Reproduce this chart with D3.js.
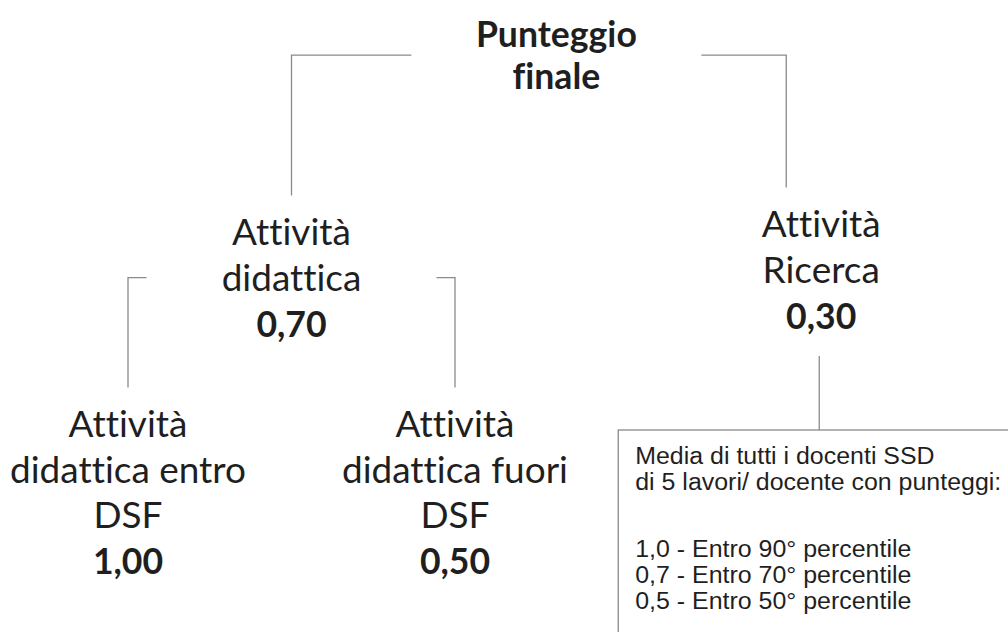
<!DOCTYPE html>
<html>
<head>
<meta charset="utf-8">
<script src="https://cdn.jsdelivr.net/npm/d3@7"></script>
<style>
  html, body { margin: 0; padding: 0; background: #ffffff; }
  svg { display: block; }
  text { font-variant-ligatures: none; font-feature-settings: "liga" 0, "clig" 0, "dlig" 0; }
</style>
</head>
<body>
<svg id="chart" width="1008" height="632"></svg>
<script>
// ---------- DATA ----------
const nodeIds   = ["root", "did", "ric", "entro", "fuori", "box"];
const parentIds = [null, "root", "root", "did", "did", "ric"];
const nodeLabels = [
  ["Punteggio", "finale"],
  ["Attività", "didattica"],
  ["Attività", "Ricerca"],
  ["Attività", "didattica entro", "DSF"],
  ["Attività", "didattica fuori", "DSF"],
  null
];
const nodeWeights = [null, 0.70, 0.30, 1.00, 0.50, null];
const boxIntro = ["Media di tutti i docenti SSD", "di 5 lavori/ docente con punteggi:"];
const percentileScores = [1.0, 0.7, 0.5];
const percentileLimits = [90, 70, 50];

// ---------- STYLE / LAYOUT ----------
const W = 1008, H = 632;
const textColor = "#1f1f1f";
const lineColor = "#8a8a8a";
const fontFamily = "Lato, 'Open Sans', sans-serif";
const boxFont = "'Liberation Sans', Arial, sans-serif";
const boxSize = 23;
const depthBaseline = [47, 245, 437];   // first-line baseline per depth
const nodeDy = { ric: -8 };             // small vertical offsets seen in the scan
const linkDx = { ric: -35 };            // top link lands left of node centre
const lineGap = { 0: 42, 1: 46, 2: 45.5 };

const locale = d3.formatLocale({ decimal: ",", thousands: ".", grouping: [3], currency: ["€", ""] });
const fmt2 = locale.format(".2f");
const fmt1 = locale.format(".1f");

const svg = d3.select("#chart");
svg.append("rect").attr("width", W).attr("height", H).attr("fill", "#ffffff");

// measurement helper for fitting font sizes
function measure(text, weight, size, family) {
  const t = svg.append("text").attr("font-family", family || fontFamily).attr("font-weight", weight)
    .attr("font-size", size).text(text);
  const w = t.node().getComputedTextLength();
  t.remove();
  return w;
}
const regSize  = 100 * 236 / measure("didattica entro", 400, 100);
const boldSize = 100 * 161 / measure("Punteggio", 700, 100);
// horizontal stretch so the box text reaches the width seen in the scan
const boxStretch = Math.max(1, 366 / measure("di 5 lavori/ docente con punteggi:", 400, boxSize, boxFont));

// ---------- HIERARCHY ----------
const table = nodeIds.map((id, i) => ({ id, parent: parentIds[i], label: nodeLabels[i], weight: nodeWeights[i] }));
const root = d3.stratify().id(d => d.id).parentId(d => d.parent)(table);

const tree = d3.tree()
  .nodeSize([327, 1])
  .separation((a, b) => a.parent === b.parent ? 1 : 1.12);
tree(root);

const leaves = root.leaves();
const xShift = 128 - d3.min(leaves, d => d.x);
root.each(d => {
  d.px = d.x + xShift;
  d.py = depthBaseline[d.depth] + (nodeDy[d.data.id] || 0);
});

// build lines per node
root.each(d => {
  if (!d.data.label) return;
  const lines = d.data.label.map(s => ({ text: s, bold: d.depth === 0 }));
  if (d.data.weight != null) lines.push({ text: fmt2(d.data.weight), bold: true });
  d.lines = lines;
  const gap = lineGap[d.depth];
  const capTop = d.py - (d.depth === 0 ? boldSize : regSize) * 0.72;
  d.capTop = capTop;
  d.lastBaseline = d.py + gap * (lines.length - 1);
  d.midY = (capTop + d.lastBaseline) / 2;
});

// ---------- CONNECTORS ----------
const gLinks = svg.append("g").attr("stroke", lineColor).attr("stroke-width", 1.3).attr("fill", "none");
const textGap = 145;
root.each(p => {
  if (!p.children) return;
  if (p.children.length === 1) {
    const c = p.children[0];
    gLinks.append("path").attr("d", d3.line()([[c.px - 2, p.lastBaseline + 27], [c.px - 2, 430]]));
    return;
  }
  p.children.forEach(c => {
    const cx = c.px + (linkDx[c.data.id] || 0);
    const side = cx < p.px ? -1 : 1;
    const hx = p.px + side * textGap;
    const yEnd = c.capTop - 23;
    gLinks.append("path").attr("d", d3.line()([[hx, p.midY], [cx, p.midY], [cx, yEnd]]));
  });
});

// ---------- NODE LABELS ----------
const gNodes = svg.append("g").attr("fill", textColor).attr("font-family", fontFamily);
root.each(d => {
  if (!d.lines) return;
  const gap = lineGap[d.depth];
  gNodes.append("g").selectAll("text").data(d.lines).join("text")
    .attr("x", d.px)
    .attr("y", (l, i) => d.py + i * gap)
    .attr("text-anchor", "middle")
    .attr("font-size", l => l.bold ? boldSize : regSize)
    .attr("font-weight", l => l.bold ? 700 : 400)
    .text(l => l.text);
});

// ---------- DESCRIPTION BOX ----------
const boxNode = root.find(d => d.data.id === "box");
const boxW = 406;
const boxX = boxNode.px - boxW / 2;
const boxY = 430;
svg.append("rect")
  .attr("x", boxX).attr("y", boxY).attr("width", boxW).attr("height", 260)
  .attr("fill", "none").attr("stroke", lineColor).attr("stroke-width", 1.3);

const boxLines = boxIntro.map(s => ({ text: s, gapBefore: 0 }))
  .concat(percentileScores.map((s, i) => ({
    text: `${fmt1(s)} - Entro ${percentileLimits[i]}° percentile`, gapBefore: i === 0 ? 41 : 0
  })));
let yy = 464;
const boxYs = boxLines.map((l, i) => { if (i > 0) yy += 26 + l.gapBefore; return yy; });
svg.append("g").attr("fill", textColor).attr("font-family", boxFont).attr("font-size", boxSize)
  .selectAll("text").data(boxLines).join("text")
  .attr("x", boxX + 17)
  .attr("y", (l, i) => boxYs[i])
  .text(l => l.text)
  .each(function () {
    const len = this.getComputedTextLength();
    d3.select(this).attr("textLength", len * boxStretch).attr("lengthAdjust", "spacingAndGlyphs");
  });
</script>
</body>
</html>
